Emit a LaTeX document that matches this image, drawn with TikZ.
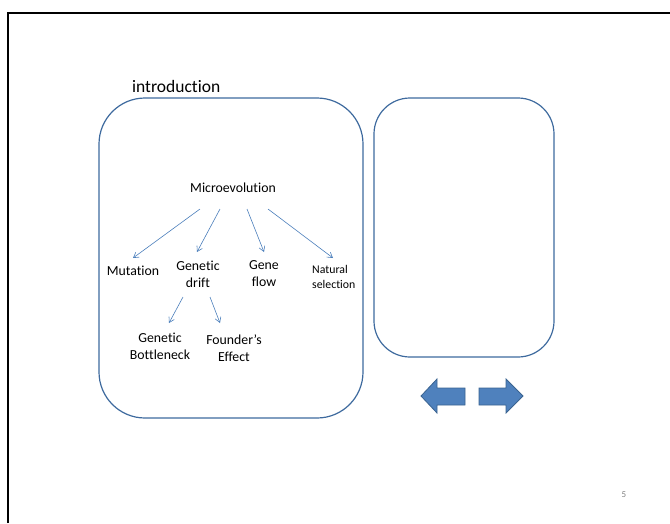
\documentclass[tikz,border=0pt]{standalone}
\usepackage{fontspec}
\setmainfont[Ligatures={NoCommon}]{Carlito}
\usetikzlibrary{arrows.meta}
\definecolor{boxline}{HTML}{3E6A9E}
\definecolor{linkblue}{HTML}{4A7EBB}
\definecolor{arrowfill}{HTML}{4F81BD}
\definecolor{arrowedge}{HTML}{3A6390}
\tikzset{
  x=1pt, y=-1pt,
  panel/.style={draw=boxline, line width=1.2pt},
  term/.style={align=center, font=\fontsize{13.8}{17}\selectfont, inner sep=0pt},
  smallterm/.style={align=left, font=\fontsize{11.8}{15}\selectfont, inner sep=0pt},
  link/.style={draw=linkblue, line width=0.6pt, -{Straight Barb[length=5pt,width=6pt]}},
  blockarrow/.style={fill=arrowfill, draw=arrowedge, line width=0.8pt, line join=miter}
}
\begin{document}
\begin{tikzpicture}
\useasboundingbox (0,0) rectangle (670,523);
% slide frame
\draw[line width=1.6pt] (8,523) -- (8,13) -- (670,13);
% panels
\draw[panel, rounded corners=46pt] (99,98) rectangle (363,418);
\draw[panel, rounded corners=36pt] (374,98) rectangle (554,357);
\node[anchor=west, font=\fontsize{17.5}{20}\selectfont, inner sep=0pt] (title) at (132,86) {introduction};
% terms
\node[term] (micro) at (233,188) {Microevolution};
\node[term] (mut) at (133,271) {Mutation};
\node[term] (drift) at (198,274) {Genetic\\drift};
\node[term] (flow) at (264,274) {Gene\\flow};
\node[smallterm, anchor=west] (nat) at (312,277) {Natural\\selection};
\node[term] (bott) at (160,346) {Genetic\\Bottleneck};
\node[term] (found) at (234,348) {Founder’s\\Effect};
% links
\coordinate (m1) at (200,209); \coordinate (t1) at (133,258);
\coordinate (m2) at (220,209); \coordinate (t2) at (197,252);
\coordinate (m3) at (247,209); \coordinate (t3) at (264,252);
\coordinate (m4) at (268,209); \coordinate (t4) at (333,258);
\coordinate (d1) at (183,297); \coordinate (t5) at (169,323);
\coordinate (d2) at (210,297); \coordinate (t6) at (220,323);
\draw[link] (m1) -- (t1);
\draw[link] (m2) -- (t2);
\draw[link] (m3) -- (t3);
\draw[link] (m4) -- (t4);
\draw[link] (d1) -- (t5);
\draw[link] (d2) -- (t6);
% block arrows
\draw[blockarrow] (421,396) -- (437,379) -- (437,388) -- (465,388) -- (465,405) -- (437,405) -- (437,413) -- cycle;
\draw[blockarrow] (523,396) -- (506,379) -- (506,388) -- (479,388) -- (479,405) -- (506,405) -- (506,413) -- cycle;
% page number
\node[text=gray, font=\fontsize{9}{10}\selectfont, inner sep=0pt] (page) at (624,495) {5};
\end{tikzpicture}
\end{document}
